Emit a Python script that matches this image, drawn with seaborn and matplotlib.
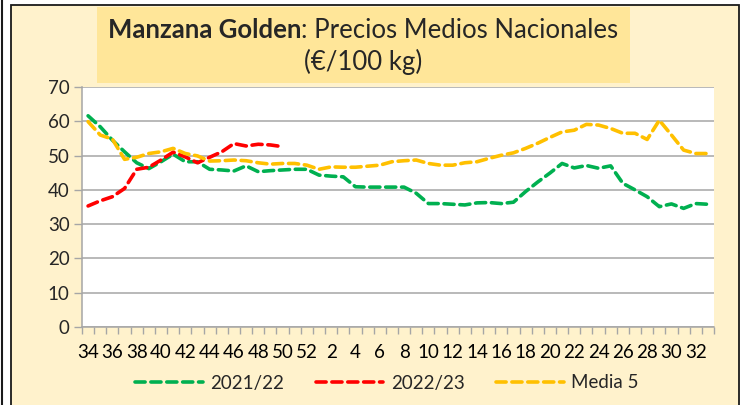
import matplotlib
import numpy as np
import pandas as pd
import seaborn as sns

matplotlib.use("Agg")
import matplotlib.pyplot as plt  # noqa: E402
from matplotlib.patches import Rectangle  # noqa: E402
from matplotlib.lines import Line2D  # noqa: E402

# Campaign weeks: 34..52 then 1..33
weeks = list(range(34, 53)) + list(range(1, 34))

green_2122 = [
    61.6, 58.4, 54.5, 51.1, 47.9, 46.2, 48.2, 50.4, 48.2, 48.2,
    46.0, 45.8, 45.5, 47.0, 45.3, 45.6, 45.8, 46.0, 46.0, 44.3,
    44.0, 43.8, 40.9, 40.8, 40.8, 40.8, 40.8, 39.0, 36.0, 36.0,
    35.8, 35.6, 36.2, 36.3, 36.0, 36.4, 39.5, 42.3, 44.9, 47.7,
    46.4, 47.1, 46.3, 47.0, 41.9, 40.0, 38.0, 35.1, 35.9, 34.6,
    36.0, 35.8,
]
red_2223 = [
    35.3, 36.8, 38.0, 40.4, 46.0, 46.6, 48.7, 51.0, 49.6, 47.9,
    49.5, 51.1, 53.5, 52.8, 53.3, 53.1, 52.6,
]
media_5 = [
    59.9, 56.0, 54.8, 48.9, 49.5, 50.6, 51.1, 52.1, 50.6, 49.9,
    48.4, 48.5, 48.7, 48.5, 47.9, 47.5, 47.7, 47.7, 47.2, 46.0,
    46.7, 46.6, 46.6, 46.9, 47.2, 48.2, 48.5, 48.7, 47.7, 47.2,
    47.2, 47.9, 48.2, 49.2, 50.1, 50.8, 52.1, 53.6, 55.3, 56.9,
    57.4, 59.1, 58.9, 57.9, 56.5, 56.5, 54.7, 60.3, 56.0, 51.6,
    50.6, 50.6,
]

series_labels = ["2021/22", "2022/23", "Media 5"]
series_colors = {"2021/22": "#00B050", "2022/23": "#FF0000", "Media 5": "#FFC000"}

CREAM = "#FFF2CC"
TITLE_BOX = "#FFE699"
GRID = "#A6A6A6"

frame = pd.concat(
    [
        pd.DataFrame({"pos": np.arange(len(v)), "price": v, "serie": name})
        for name, v in zip(series_labels, [green_2122, red_2223, media_5])
    ],
    ignore_index=True,
)

sns.set_theme(style="white")
plt.rcParams["font.family"] = ["Lato", "DejaVu Sans"]

W, H = 745, 405
fig = plt.figure(figsize=(W / 100, H / 100), dpi=100, facecolor="white")

# cream chart area with dark border, plus stray line at far left
fig.patches.append(Rectangle((11 / W, -0.02), (739 - 11) / W, 1 - 5 / H + 0.02,
                             transform=fig.transFigure, facecolor=CREAM,
                             edgecolor="#1a1a1a", linewidth=1.3, zorder=-2))
fig.lines.append(Line2D([1.5 / W, 1.5 / W], [0, 1], transform=fig.transFigure,
                        color="#1a1a1a", linewidth=1.5, zorder=-2))
fig.patches.append(Rectangle((97 / W, 1 - 83 / H), (630 - 97) / W, (83 - 7) / H,
                             transform=fig.transFigure, facecolor=TITLE_BOX,
                             edgecolor="none", zorder=-1))

ax = fig.add_axes([82 / W, 1 - 327 / H, (714 - 82) / W, (327 - 87) / H])
ax.set_zorder(2)
ax.set_facecolor("white")

for name in series_labels:
    sub = frame[frame["serie"] == name]
    sns.lineplot(data=sub, x="pos", y="price", color=series_colors[name],
                 linewidth=2.6, linestyle=(0, (2.8, 1.6)),
                 dash_capstyle="round", ax=ax, legend=False, zorder=3)

ax.set_xlim(-0.5, len(weeks) - 0.5)
ax.set_ylim(0, 70)
ax.set_yticks(range(0, 71, 10))
ax.set_xticks(range(0, len(weeks), 2))
ax.set_xticklabels([str(w) for w in weeks[::2]])
ax.set_xticks(np.arange(-0.5, len(weeks) + 0.5, 1), minor=True)
ax.tick_params(axis="x", which="major", length=0, pad=12, labelsize=13.5,
               colors="black")
ax.tick_params(axis="x", which="minor", length=5, width=1, color=GRID,
               direction="out", bottom=True)
ax.tick_params(axis="y", which="major", length=6, width=1, color=GRID,
               direction="out", left=True, pad=3, labelsize=13.5)
ax.grid(axis="y", color=GRID, linewidth=1.1)
ax.set_axisbelow(True)
for side in ["top", "right"]:
    ax.spines[side].set_visible(False)
ax.spines["left"].set_color(GRID)
ax.spines["bottom"].set_color(GRID)
ax.spines["left"].set_linewidth(1.1)
ax.spines["bottom"].set_linewidth(1.1)
ax.set_xlabel("")
ax.set_ylabel("")

handles = [
    Line2D([], [], color=series_colors[n], linewidth=2.6,
           linestyle=(0, (2.8, 1.6)), dash_capstyle="round")
    for n in series_labels
]
fig.legend(handles, series_labels, loc="center", bbox_to_anchor=(387 / W, 1 - 383 / H),
           ncol=3, frameon=False, fontsize=13.5, handlelength=3.6,
           handletextpad=0.4, columnspacing=1.7)

# title: bold part + regular part on one line, centered
cx = 363 / W
fig.canvas.draw()
renderer = fig.canvas.get_renderer()
t_bold = fig.text(0, 1 - 30 / H, "Manzana Golden", fontsize=18.5,
                  fontweight="bold", va="center", ha="left")
t_reg = fig.text(0, 1 - 30 / H, ": Precios Medios Nacionales", fontsize=18.5,
                 va="center", ha="left")
wb = t_bold.get_window_extent(renderer).width / W
wr = t_reg.get_window_extent(renderer).width / W
x0 = cx - (wb + wr) / 2
t_bold.set_x(x0)
t_reg.set_x(x0 + wb)
fig.text(cx, 1 - 62 / H, "(€/100 kg)", fontsize=18.5, va="center", ha="center")

fig.savefig("out.png", dpi=100, facecolor=fig.get_facecolor())
